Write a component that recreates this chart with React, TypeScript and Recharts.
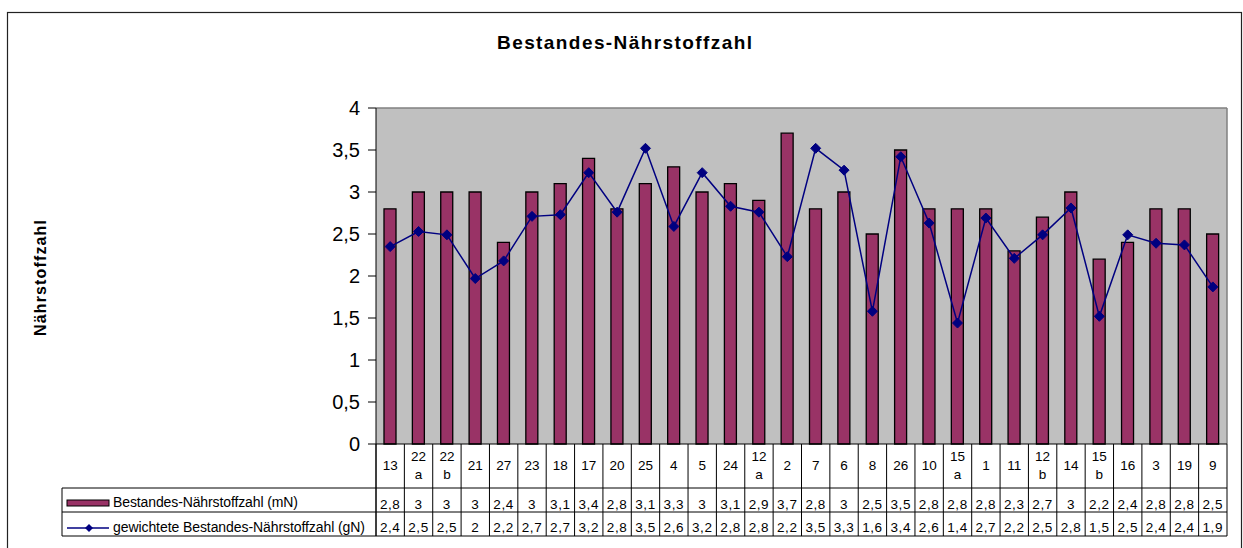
import React from "react";
import {
  ComposedChart,
  Bar,
  Line,
  XAxis,
  YAxis,
  CartesianGrid,
  Customized,
} from "recharts";

const categories = [
  "13", "22a", "22b", "21", "27", "23", "18", "17", "20", "25",
  "4", "5", "24", "12a", "2", "7", "6", "8", "26", "10",
  "15a", "1", "11", "12b", "14", "15b", "16", "3", "19", "9",
];
const mNValues = [
  2.8, 3, 3, 3, 2.4, 3, 3.1, 3.4, 2.8, 3.1,
  3.3, 3, 3.1, 2.9, 3.7, 2.8, 3, 2.5, 3.5, 2.8,
  2.8, 2.8, 2.3, 2.7, 3, 2.2, 2.4, 2.8, 2.8, 2.5,
];
const gNValues = [
  2.35, 2.53, 2.49, 1.97, 2.18, 2.71, 2.73, 3.23, 2.76, 3.52,
  2.59, 3.23, 2.83, 2.76, 2.23, 3.52, 3.26, 1.58, 3.42, 2.63,
  1.44, 2.69, 2.21, 2.49, 2.81, 1.52, 2.49, 2.39, 2.37, 1.87,
];
const yTicks = [0, 0.5, 1, 1.5, 2, 2.5, 3, 3.5, 4];
const titleText = "Bestandes-Nährstoffzahl";
const yLabelText = "Nährstoffzahl";
const mNLabel = "Bestandes-Nährstoffzahl (mN)";
const gNLabel = "gewichtete Bestandes-Nährstoffzahl (gN)";

const data = categories.map((c, i) => ({ cat: c, mN: mNValues[i], gN: gNValues[i] }));

const W = 1243;
const H = 548;
const PLOT_L = 376;
const PLOT_R = 1227;
const PLOT_T = 108;
const PLOT_B = 444;
const ROW1 = 488;
const ROW2 = 512;
const ROW3 = 536;
const TABLE_L = 62;
const Y_AXIS_W = 60;
const X_AXIS_H = ROW3 - PLOT_B;
const FONT = "'Liberation Sans', Arial, sans-serif";
const BAR_COLOR = "#993366";
const LINE_COLOR = "#000080";
const N = categories.length;
const CW = (PLOT_R - PLOT_L) / N;

const fmt = (v: number) => (Math.round(v * 10) / 10).toString().replace(".", ",");

const CategoryTick = (props: any) => {
  const { x, payload } = props;
  const i = payload.index;
  const left = x - CW / 2;
  const label: string = String(payload.value);
  const m = label.match(/^(\d+)([a-z])$/);
  return (
    <g>
      <line x1={left} y1={PLOT_B} x2={left} y2={ROW3} stroke="#000" strokeWidth={1} />
      {i === N - 1 && (
        <line x1={left + CW} y1={PLOT_B} x2={left + CW} y2={ROW3} stroke="#000" strokeWidth={1} />
      )}
      {m ? (
        <>
          <text x={x} y={461} textAnchor="middle" fontSize={13.5} fontFamily={FONT} fill="#000">{m[1]}</text>
          <text x={x} y={479} textAnchor="middle" fontSize={13.5} fontFamily={FONT} fill="#000">{m[2]}</text>
        </>
      ) : (
        <text x={x} y={470} textAnchor="middle" fontSize={13.5} fontFamily={FONT} fill="#000">{label}</text>
      )}
      <text x={x} y={509} textAnchor="middle" fontSize={13.5} fontFamily={FONT} letterSpacing={0.6} fill="#000">
        {fmt(mNValues[i])}
      </text>
      <text x={x} y={532} textAnchor="middle" fontSize={13.5} fontFamily={FONT} letterSpacing={0.6} fill="#000">
        {fmt(gNValues[i])}
      </text>
    </g>
  );
};

const Diamond = (props: any) => {
  const { cx, cy, index } = props;
  if (cx == null || cy == null) return <g key={`d${index}`} />;
  const r = 5;
  return (
    <path
      key={`d${index}`}
      d={`M${cx},${cy - r} L${cx + r},${cy} L${cx},${cy + r} L${cx - r},${cy} Z`}
      fill={LINE_COLOR}
      stroke={LINE_COLOR}
      strokeWidth={1}
    />
  );
};

const Overlay = () => (
  <g>
    <rect x={7.5} y={12.5} width={1234} height={560} fill="none" stroke="#222" strokeWidth={1.2} />
    <text x={497} y={49} fontSize={19} fontWeight="bold" fontFamily={FONT} textLength={255} fill="#000">
      {titleText}
    </text>
    <text
      x={46}
      y={278}
      transform="rotate(-90, 46, 278)"
      textAnchor="middle"
      fontSize={16}
      fontWeight="bold"
      fontFamily={FONT}
      textLength={116}
      fill="#000"
    >
      {yLabelText}
    </text>
    <line x1={PLOT_L} y1={PLOT_T} x2={PLOT_R} y2={PLOT_T} stroke="#808080" strokeWidth={1.5} />
    <line x1={PLOT_R} y1={PLOT_T} x2={PLOT_R} y2={PLOT_B} stroke="#808080" strokeWidth={1.5} />
    <line x1={TABLE_L} y1={ROW1} x2={PLOT_R} y2={ROW1} stroke="#000" strokeWidth={1} />
    <line x1={TABLE_L} y1={ROW2} x2={PLOT_R} y2={ROW2} stroke="#000" strokeWidth={1} />
    <line x1={TABLE_L} y1={ROW3} x2={PLOT_R} y2={ROW3} stroke="#000" strokeWidth={1} />
    <line x1={TABLE_L} y1={ROW1} x2={TABLE_L} y2={ROW3} stroke="#000" strokeWidth={1} />
    <line x1={PLOT_L} y1={PLOT_B} x2={PLOT_L} y2={ROW3} stroke="#000" strokeWidth={1} />
    <rect x={67} y={500} width={42} height={6} fill={BAR_COLOR} stroke="#000" strokeWidth={1} />
    <text x={113} y={507} fontSize={14} fontFamily={FONT} textLength={185} fill="#000">{mNLabel}</text>
    <line x1={67} y1={528} x2={109} y2={528} stroke={LINE_COLOR} strokeWidth={1.5} />
    <path d="M89,524 L93,528 L89,532 L85,528 Z" fill={LINE_COLOR} />
    <text x={113} y={532} fontSize={14} fontFamily={FONT} textLength={252} fill="#000">{gNLabel}</text>
  </g>
);

export default function App() {
  return (
    <div style={{ position: "absolute", left: 0, top: 0, width: W, height: H, background: "#fff" }}>
      <ComposedChart
        width={W}
        height={H}
        data={data}
        margin={{ top: PLOT_T, right: W - PLOT_R, bottom: H - ROW3, left: PLOT_L - Y_AXIS_W }}
      >
        <CartesianGrid horizontal={false} vertical={false} fill="#C0C0C0" stroke="none" />
        <XAxis
          dataKey="cat"
          interval={0}
          height={X_AXIS_H}
          tickLine={false}
          axisLine={{ stroke: "#000", strokeWidth: 1 }}
          tick={(p: any) => <CategoryTick {...p} />}
        />
        <YAxis
          width={Y_AXIS_W}
          domain={[0, 4]}
          ticks={yTicks}
          interval={0}
          tickFormatter={fmt}
          axisLine={{ stroke: "#000", strokeWidth: 1 }}
          tickLine={{ stroke: "#000", strokeWidth: 1 }}
          tickSize={8}
          tickMargin={8}
          tick={{ fontSize: 20, fontFamily: FONT, fill: "#000" }}
        />
        <Bar dataKey="mN" fill={BAR_COLOR} stroke="#000" strokeWidth={1.3} barSize={12} isAnimationActive={false} />
        <Line
          dataKey="gN"
          type="linear"
          stroke={LINE_COLOR}
          strokeWidth={1.5}
          dot={(p: any) => <Diamond key={`dot${p.index}`} {...p} />}
          activeDot={false}
          isAnimationActive={false}
        />
        <Customized component={Overlay} />
      </ComposedChart>
    </div>
  );
}
